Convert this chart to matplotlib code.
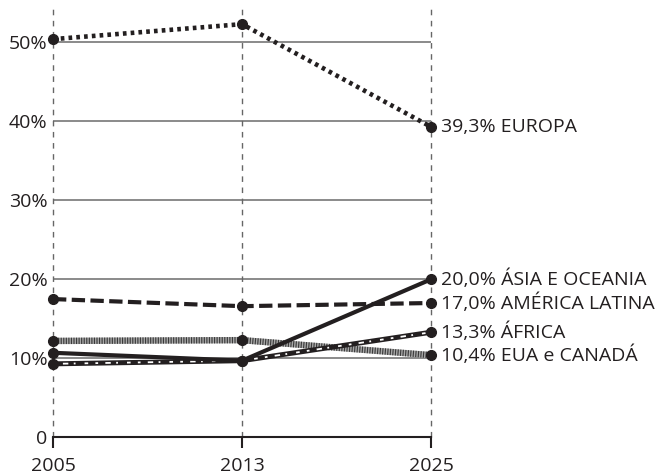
#share of international tourist arrivals by region, 2005 / 2013 / 2025
import matplotlib
matplotlib.use("Agg")
import matplotlib.pyplot as plt

years = ["2005", "2013", "2025"]
europa = [50.4, 52.3, 39.3]
asia = [10.7, 9.7, 20.0]
america_latina = [17.5, 16.6, 17.0]
africa = [9.3, 9.7, 13.3]
eua_canada = [12.2, 12.3, 10.4]

labels = {
    "europa": "39,3% EUROPA",
    "asia": "20,0% ÁSIA E OCEANIA",
    "latina": "17,0% AMÉRICA LATINA",
    "africa": "13,3% ÁFRICA",
    "eua": "10,4% EUA e CANADÁ",
}
yticks = [0, 10, 20, 30, 40, 50]
yticklabels = ["0", "10%", "20%", "30%", "40%", "50%"]

plt.rcParams["font.family"] = ["Open Sans", "DejaVu Sans"]
TXT = "#231f20"

fig = plt.figure(figsize=(6.64, 4.74), dpi=100)
ax = fig.add_axes([0.0798, 0.0774, 0.5693, 0.905])
x = range(len(years))

#grid
for v in yticks[1:]:
    ax.axhline(v, color="#8a8a8a", lw=1.4, zorder=1)
for i in x:
    ax.axvline(i, color="#666666", lw=1.0, ls=(0, (4, 4)), zorder=1, clip_on=False)

mk = dict(marker="o", ms=7, mfc=TXT, mec=TXT, clip_on=False)

#eua e canada: grey striped band
ax.plot(x, eua_canada, color="#a8a8a8", lw=4.6, solid_capstyle="butt", zorder=3, clip_on=False)
ax.plot(x, eua_canada, color="#3a3a3a", lw=4.6, ls=(0, (0.18, 0.22)),
        dash_capstyle="butt", zorder=3, clip_on=False)
ax.plot(x, eua_canada, ls="none", zorder=5, **mk)

#africa: black textured line
ax.plot(x, africa, color=TXT, lw=3.6, solid_capstyle="butt", zorder=3, clip_on=False)
ax.plot(x, africa, color="white", lw=1.3, ls=(0, (1.5, 4, 3, 3, 1, 5, 2, 4)),
        dash_capstyle="butt", zorder=3, clip_on=False)
ax.plot(x, africa, ls="none", zorder=5, **mk)

#asia e oceania: solid
ax.plot(x, asia, color=TXT, lw=3.0, zorder=4, **mk)

#america latina: dashed
ax.plot(x, america_latina, color=TXT, lw=3.0, ls=(0, (3.2, 1.3)),
        dash_capstyle="butt", zorder=4, **mk)

#europa: dotted
ax.plot(x, europa, color=TXT, lw=3.3, ls=(0, (0.8, 0.9)),
        dash_capstyle="butt", zorder=4, **mk)

#end labels
ends = [(europa, "europa"), (asia, "asia"), (america_latina, "latina"),
        (africa, "africa"), (eua_canada, "eua")]
for s, key in ends:
    ax.annotate(labels[key], (2, s[-1]), xytext=(7, 0), textcoords="offset points",
                va="center", ha="left", fontsize=14, color=TXT, annotation_clip=False)

ax.set_xlim(0, 2)
ax.set_ylim(0, 54.3)
ax.set_xticks(list(x))
ax.set_xticklabels(years)
ax.set_yticks(yticks)
ax.set_yticklabels(yticklabels)
ax.tick_params(axis="x", direction="out", length=8, width=1.5, color=TXT,
               labelsize=14, labelcolor=TXT, pad=6)
ax.tick_params(axis="y", length=0, labelsize=14, labelcolor=TXT, pad=4)
for side in ["left", "right", "top"]:
    ax.spines[side].set_visible(False)
ax.spines["bottom"].set_linewidth(1.5)
ax.spines["bottom"].set_color(TXT)
ax.patch.set_alpha(0)

fig.savefig("out.png", dpi=100)
